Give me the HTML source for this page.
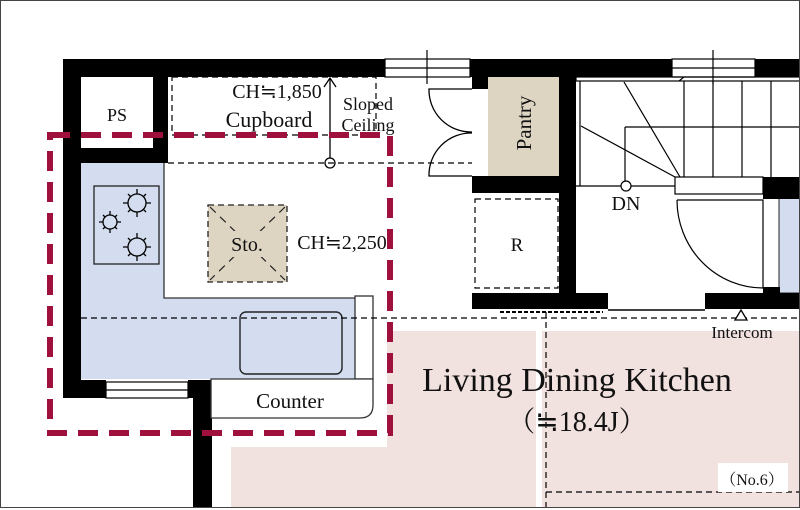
<!DOCTYPE html>
<html><head><meta charset="utf-8"><style>body{margin:0;background:#fff}svg{display:block}text{font-family:"Liberation Serif","Noto Serif CJK SC",serif;fill:#111}</style></head><body>
<svg width="800" height="510" viewBox="0 0 800 510" xmlns="http://www.w3.org/2000/svg">
<rect x="0" y="0" width="800" height="510" fill="#fff"/>
<path d="M387 331H800V508H231V447H387Z" fill="#f1e1df"/>
<rect x="536" y="331" width="6" height="177" fill="#fff"/>
<path d="M81 163H164V298H355V379H81Z" fill="#d3ddef"/>
<rect x="779" y="193" width="21" height="100" fill="#d3ddef" stroke="#222"/>
<g fill="#000">
<rect x="63" y="59" width="322" height="18"/>
<rect x="470" y="59" width="202" height="18"/>
<rect x="755" y="59" width="45" height="18"/>
<rect x="63" y="59" width="18" height="339"/>
<rect x="63" y="380" width="43" height="18"/>
<rect x="188" y="380" width="24" height="18"/>
<rect x="193" y="380" width="19" height="128"/>
<rect x="153" y="77" width="15" height="86"/>
<rect x="81" y="148" width="87" height="15"/>
<rect x="472" y="77" width="16" height="12"/>
<rect x="559" y="77" width="17" height="232"/>
<rect x="472" y="176" width="104" height="17"/>
<rect x="472" y="293" width="136" height="16"/>
<rect x="705" y="293" width="95" height="16"/>
<rect x="763" y="177" width="37" height="22"/>
<rect x="763" y="287" width="17" height="8"/>
</g>
<g fill="#fff" stroke="#000" stroke-width="1.2">
<rect x="385" y="59" width="85" height="18"/><line x1="385" y1="68" x2="470" y2="68"/>
<rect x="672" y="59" width="83" height="18"/><line x1="672" y1="68" x2="755" y2="68"/>
<rect x="106" y="382" width="82" height="16"/><line x1="106" y1="390" x2="188" y2="390"/>
</g>
<line x1="427" y1="50" x2="427" y2="84" stroke="#000" stroke-width="1.2"/>
<line x1="713" y1="50" x2="713" y2="84" stroke="#000" stroke-width="1.2"/>
<text x="117" y="121" font-size="18" text-anchor="middle">PS</text>
<rect x="172" y="77" width="204" height="58" fill="none" stroke="#000" stroke-dasharray="6,4" stroke-width="1.2"/>
<text x="277" y="98" font-size="20" text-anchor="middle">CH≒1,850</text>
<text x="269" y="127" font-size="22" text-anchor="middle">Cupboard</text>
<text x="368" y="110" font-size="18" text-anchor="middle">Sloped</text>
<text x="368" y="131" font-size="18" text-anchor="middle">Ceiling</text>
<line x1="330" y1="158" x2="330" y2="79" stroke="#000" stroke-width="1.3"/>
<path d="M324 87L330 78L336 87" fill="none" stroke="#000" stroke-width="1.3"/>
<circle cx="330" cy="163" r="5" fill="#fff" stroke="#000" stroke-width="1.3"/>
<line x1="168" y1="163" x2="472" y2="163" stroke="#000" stroke-dasharray="6,4" stroke-width="1.2"/>
<path d="M164 163V298H355" fill="none" stroke="#333" stroke-width="1.3"/>
<rect x="94" y="186" width="65" height="78" fill="none" stroke="#222" stroke-width="1.3"/>
<g fill="none" stroke="#000" stroke-width="1.3">
<circle cx="137" cy="203" r="9"/><circle cx="110" cy="222" r="7"/><circle cx="137" cy="247" r="9"/>
<path d="M137 189v5M137 212v5M123 203h5M146 203h5M128 194l3 3M146 194l-3 3M128 212l3-3M146 212l-3-3"/>
<path d="M137 233v5M137 256v5M123 247h5M146 247h5M128 238l3 3M146 238l-3 3M128 256l3-3M146 256l-3-3"/>
<path d="M110 211v4M110 229v4M99 222h4M117 222h4M103 215l2 2M117 215l-2 2M103 229l2-2M117 229l-2-2"/>
</g>
<rect x="240" y="312" width="102" height="62" rx="6" fill="none" stroke="#222" stroke-width="1.4"/>
<rect x="355" y="296" width="18" height="83" fill="#fff" stroke="#333" stroke-width="1.3"/>
<path d="M211 379H373V405Q373 418 360 418H211Z" fill="#fff" stroke="#333" stroke-width="1.3"/>
<text x="290" y="408" font-size="21" text-anchor="middle">Counter</text>
<rect x="208" y="205" width="79" height="77" fill="#ddd5c2" stroke="#222" stroke-dasharray="6,4" stroke-width="1.3"/>
<path d="M210 207L285 280M285 207L210 280" stroke="#222" stroke-dasharray="8,6" stroke-width="1.2"/>
<rect x="222" y="231" width="50" height="26" fill="#ddd5c2"/>
<text x="247" y="251" font-size="20" text-anchor="middle">Sto.</text>
<text x="342" y="249" font-size="20" text-anchor="middle">CH≒2,250</text>
<rect x="488" y="77" width="71" height="99" fill="#ddd5c2"/>
<text transform="translate(531,123) rotate(-90)" font-size="21" text-anchor="middle">Pantry</text>
<g fill="none" stroke="#000" stroke-width="1.3">
<path d="M472 89H429A42 42 0 0 0 472 132"/>
<path d="M472 176H429A42 42 0 0 1 472 133"/>
</g>
<rect x="475" y="199" width="83" height="89" fill="none" stroke="#000" stroke-dasharray="6,4" stroke-width="1.2"/>
<text x="517" y="251" font-size="19" text-anchor="middle">R</text>
<g fill="none" stroke="#000" stroke-width="1.2">
<rect x="576" y="77" width="224" height="4"/>
<line x1="580" y1="81" x2="580" y2="186"/>
<line x1="576" y1="186" x2="675" y2="186"/>
<path d="M625 127H800M625 127V181M684 77L679 81M624 82L680 177M581 126L675 177"/>
<path d="M684 81V177M713 81V177M742 81V177M771 81V177M800 81V177"/>
</g>
<rect x="675" y="177" width="88" height="17" fill="#fff" stroke="#000" stroke-width="1.2"/>
<circle cx="626" cy="186" r="5" fill="#fff" stroke="#000" stroke-width="1.2"/>
<text x="626" y="210" font-size="20" text-anchor="middle">DN</text>
<path d="M677 200H763V288A86 88 0 0 1 677 200" fill="none" stroke="#000" stroke-width="1.2"/>
<line x1="608" y1="310" x2="705" y2="310" stroke="#000" stroke-width="1.5"/>
<line x1="500" y1="312" x2="603" y2="312" stroke="#000" stroke-dasharray="4,2" stroke-width="2"/>
<line x1="81" y1="318" x2="800" y2="318" stroke="#000" stroke-dasharray="6,4" stroke-width="1.2"/>
<line x1="546" y1="312" x2="546" y2="508" stroke="#000" stroke-dasharray="6,4" stroke-width="1.2"/>
<line x1="546" y1="492" x2="800" y2="492" stroke="#000" stroke-dasharray="6,4" stroke-width="1.2"/>
<path d="M741 310L735 320H747Z" fill="#fff" stroke="#000" stroke-width="1.3"/>
<text x="742" y="338" font-size="17" text-anchor="middle">Intercom</text>
<text x="577" y="391" font-size="34" text-anchor="middle">Living Dining Kitchen</text>
<text x="577" y="431" font-size="28" text-anchor="middle">（≒18.4J）</text>
<rect x="718" y="463" width="70" height="29" fill="#fff"/>
<text x="752" y="485" font-size="16" text-anchor="middle">（No.6）</text>
<rect x="50" y="135" width="340" height="298" fill="none" stroke="#a0103c" stroke-width="6" stroke-dasharray="20,11"/>
<rect x="0.5" y="0.5" width="799" height="507" fill="none" stroke="#444"/>
</svg>
</body></html>
